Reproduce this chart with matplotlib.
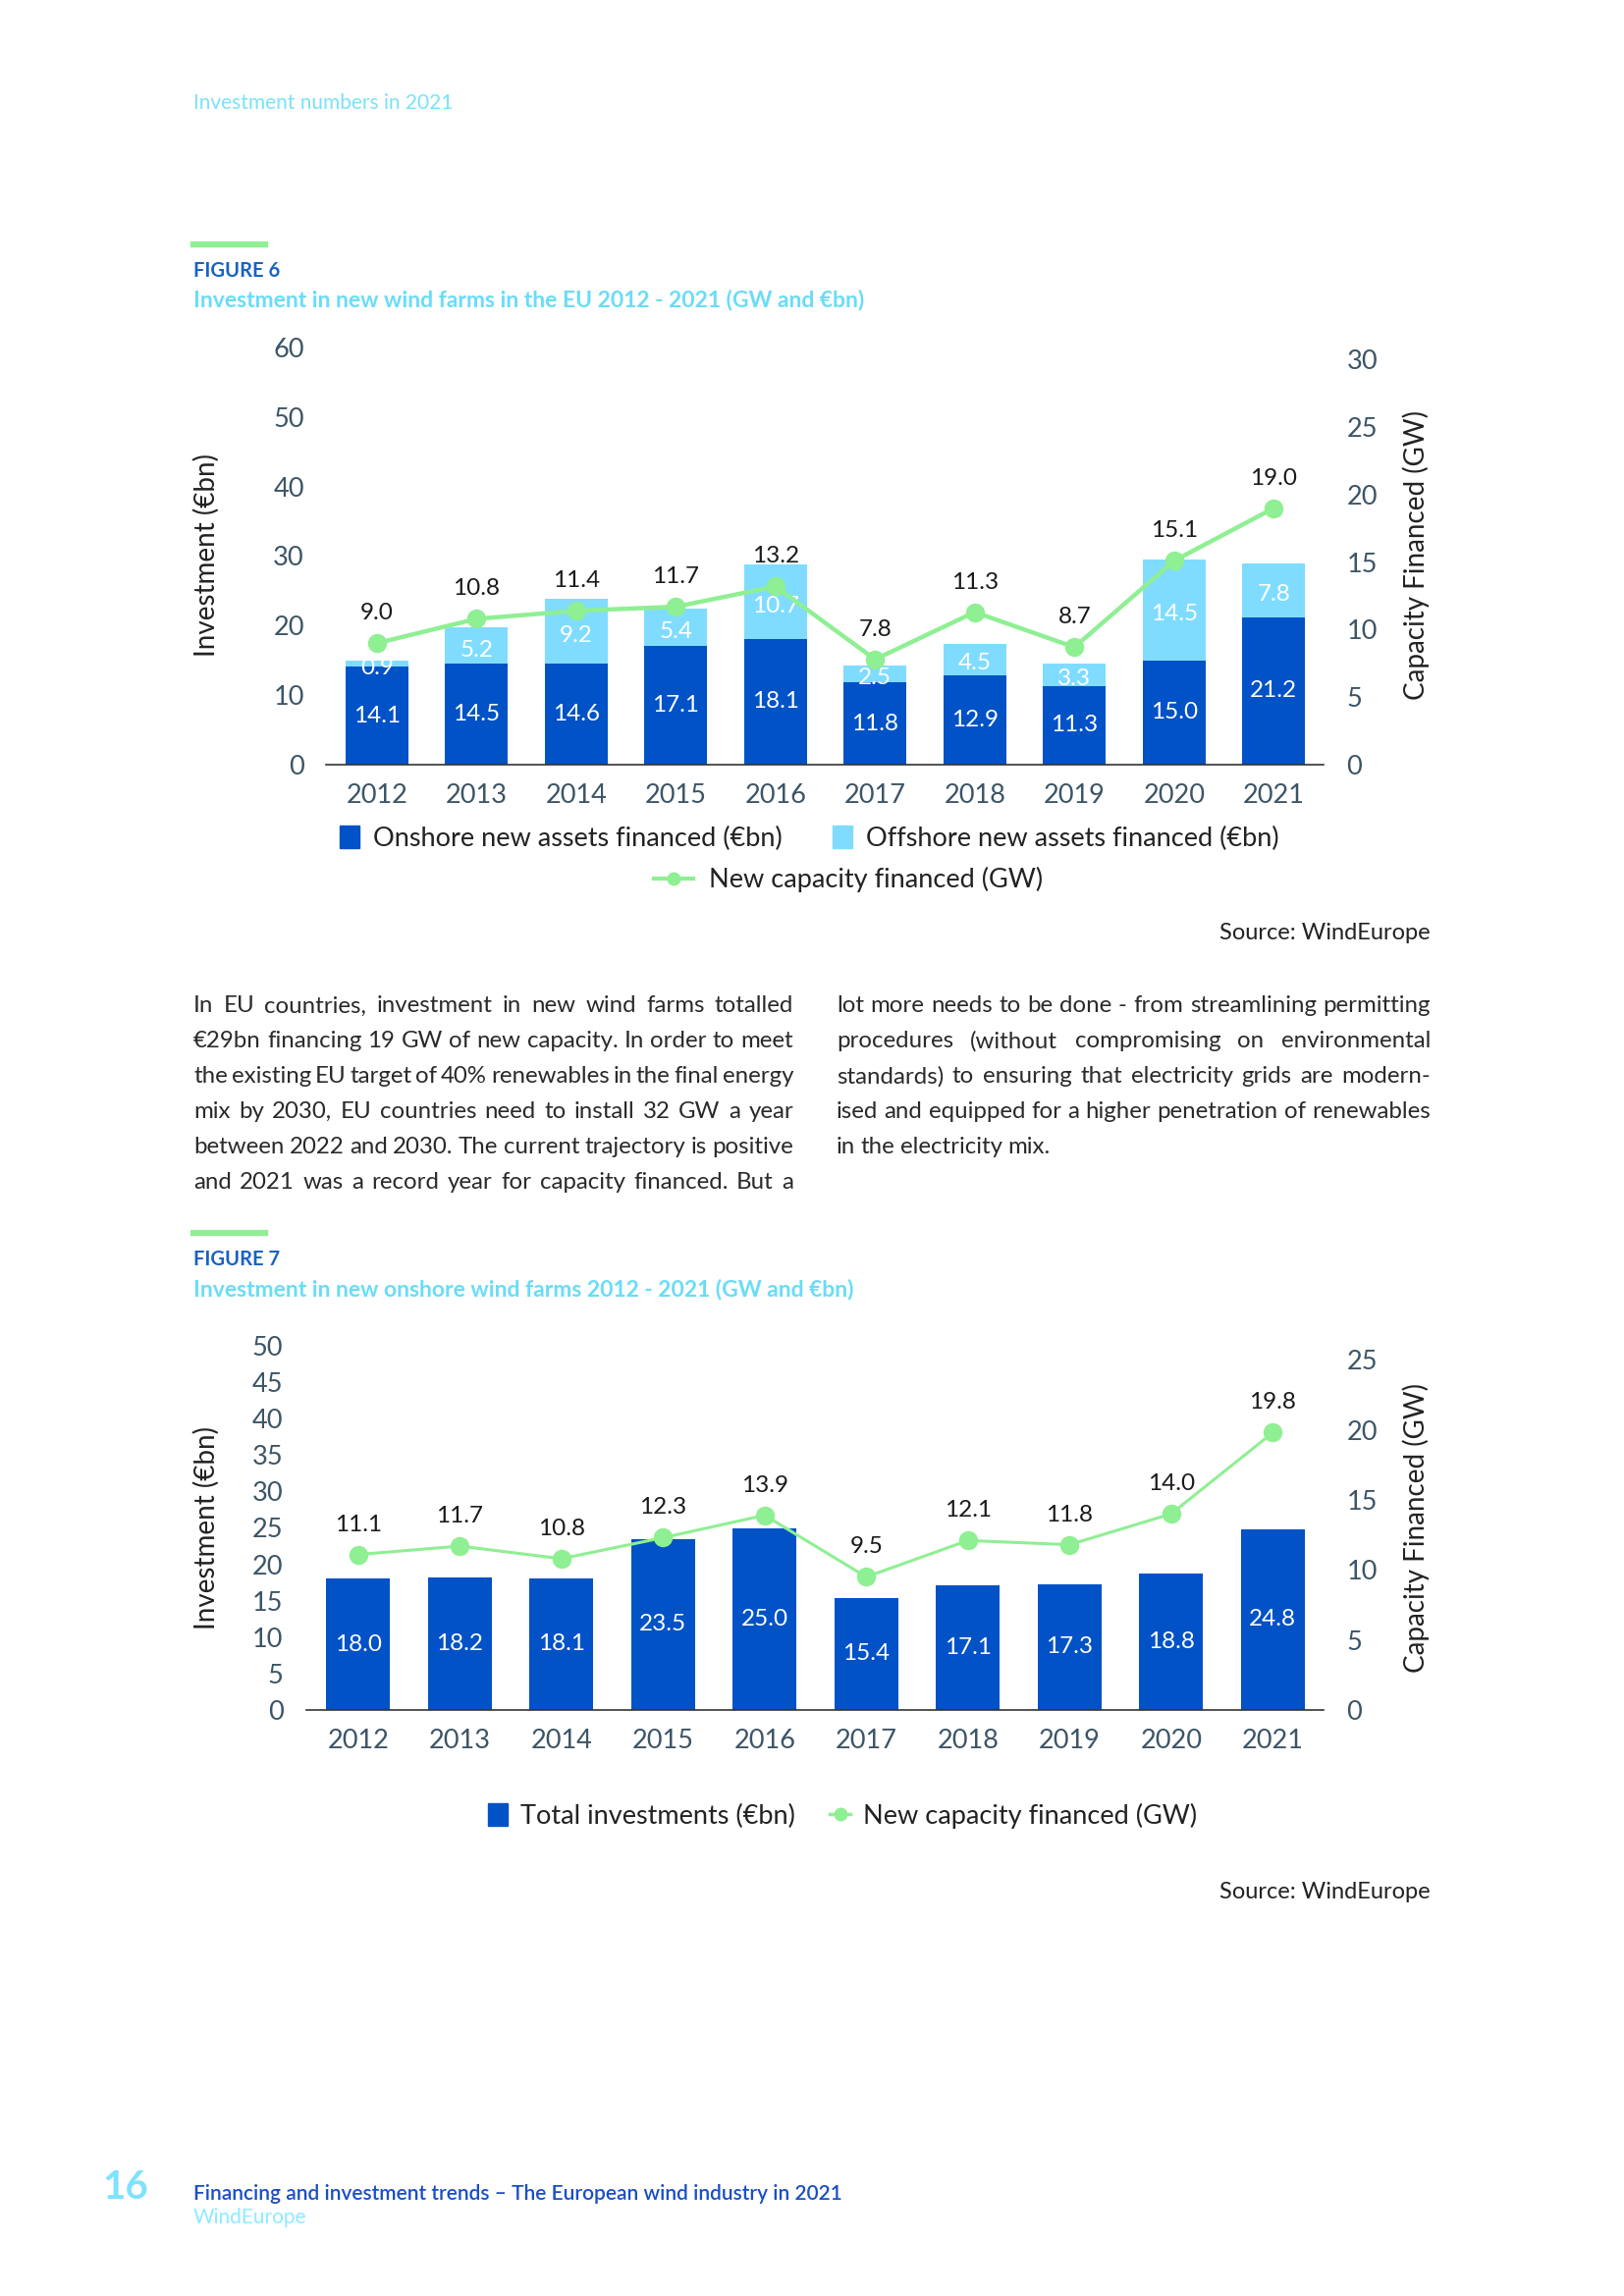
import matplotlib
matplotlib.use('Agg')
import matplotlib.pyplot as plt
from matplotlib.patches import Patch
from matplotlib.lines import Line2D
import numpy as np

# page size in pixels (dpi 100)
W, H = 1654, 2339

years = ['2012', '2013', '2014', '2015', '2016', '2017', '2018', '2019', '2020', '2021']

# figure 6: EU investment (€bn) and capacity financed (GW)
onshore = [14.1, 14.5, 14.6, 17.1, 18.1, 11.8, 12.9, 11.3, 15.0, 21.2]
offshore = [0.9, 5.2, 9.2, 5.4, 10.7, 2.5, 4.5, 3.3, 14.5, 7.8]
capacity = [9.0, 10.8, 11.4, 11.7, 13.2, 7.8, 11.3, 8.7, 15.1, 19.0]

# figure 7: onshore only
total_onshore = [18.0, 18.2, 18.1, 23.5, 25.0, 15.4, 17.1, 17.3, 18.8, 24.8]
capacity_onshore = [11.1, 11.7, 10.8, 12.3, 13.9, 9.5, 12.1, 11.8, 14.0, 19.8]

body_left = [
    "In EU countries, investment in new wind farms totalled",
    "€29bn financing 19 GW of new capacity. In order to meet",
    "the existing EU target of 40% renewables in the final energy",
    "mix by 2030, EU countries need to install 32 GW a year",
    "between 2022 and 2030. The current trajectory is positive",
    "and 2021 was a record year for capacity financed. But a",
]
body_right = [
    "lot more needs to be done - from streamlining permitting",
    "procedures (without compromising on environmental",
    "standards) to ensuring that electricity grids are modern-",
    "ised and equipped for a higher penetration of renewables",
    "in the electricity mix.",
]

DARK = '#0052C6'
LIGHT = '#80DCFF'
GREEN = '#8FEF93'
TICK = '#3C5566'
CYAN = '#6ADCF8'
FONT = ['Lato', 'DejaVu Sans']

plt.rcParams['font.family'] = FONT

fig = plt.figure(figsize=(W / 100, H / 100), dpi=100)


def fx(px):
    return px / W


def fy(py):
    return 1 - py / H


def add_ax(left, top, right, bottom):
    return fig.add_axes([fx(left), fy(bottom), (right - left) / W, (bottom - top) / H])


def style(ax, ax2, lpad, rpad):
    for s in ['top', 'left', 'right']:
        ax.spines[s].set_visible(False)
        ax2.spines[s].set_visible(False)
    ax2.spines['bottom'].set_visible(False)
    ax.spines['bottom'].set_color('#333333')
    ax.spines['bottom'].set_linewidth(1.2)
    ax.tick_params(axis='y', length=0, pad=lpad, labelsize=19.5, labelcolor=TICK)
    ax.tick_params(axis='x', length=0, pad=14, labelsize=19.5, labelcolor=TICK)
    ax2.tick_params(axis='y', length=0, pad=rpad, labelsize=19.5, labelcolor=TICK)


def header(y_bar, num, title):
    fig.add_artist(plt.Line2D([fx(197), fx(270)], [fy(y_bar), fy(y_bar)],
                              color=GREEN, lw=4.5, transform=fig.transFigure))
    fig.text(fx(197), fy(y_bar + 27), 'FIGURE %d' % num, fontsize=14.5, fontweight='bold',
             color='#1A62C4', va='center')
    fig.text(fx(197), fy(y_bar + 57), title, fontsize=16.5, fontweight='bold',
             color=CYAN, va='center')


x = np.arange(len(years))

# ---------------- page header
fig.text(fx(197), fy(105), 'Investment numbers in 2021', fontsize=15, color='#79E2FA', va='center')

# ---------------- figure 6
header(249, 6, 'Investment in new wind farms in the EU 2012 - 2021 (GW and €bn)')

ax = add_ax(332, 354, 1348, 779)
ax.bar(x, onshore, width=0.63, color=DARK, zorder=2)
ax.bar(x, offshore, width=0.63, bottom=onshore, color=LIGHT, zorder=2)
for i in range(len(years)):
    ax.text(x[i], onshore[i] / 2, '%.1f' % onshore[i], ha='center', va='center',
            color='white', fontsize=17.5, zorder=3)
    ax.text(x[i], onshore[i] + offshore[i] / 2 - 0.6, '%.1f' % offshore[i], ha='center',
            va='center', color='white', fontsize=17.5, zorder=3)
ax.set_xlim(-0.51, 9.5)
ax.set_ylim(0, 60)
ax.set_yticks(range(0, 61, 10))
ax.set_xticks(x)
ax.set_xticklabels(years)

ax2 = ax.twinx()
ax2.plot(x, capacity, color=GREEN, lw=3.2, marker='o', ms=13)
for i, v in enumerate(capacity):
    ax2.annotate('%.1f' % v, (x[i], v), xytext=(0, 22), textcoords='offset points',
                 ha='center', va='center', fontsize=17.5, color='#1A1A1A')
ax2.set_ylim(0, 30.9)
ax2.set_yticks(range(0, 31, 5))
style(ax, ax2, 16, 17)

fig.text(fx(210), fy(566), 'Investment (€bn)', rotation=90, ha='center', va='center',
         fontsize=20, color='#222222')
fig.text(fx(1442), fy(566), 'Capacity Financed (GW)', rotation=90, ha='center', va='center',
         fontsize=20, color='#222222')

h_on = Patch(color=DARK)
h_off = Patch(color=LIGHT)
h_cap = Line2D([], [], color=GREEN, lw=3, marker='o', ms=9)
fig.legend([h_on, h_off], ['Onshore new assets financed (€bn)', 'Offshore new assets financed (€bn)'],
           loc='center', bbox_to_anchor=(fx(824), fy(854)), ncol=2, frameon=False,
           fontsize=19.5, handlelength=0.75, handleheight=0.9, handletextpad=0.5,
           columnspacing=1.9, labelcolor='#222222')
fig.legend([h_cap], ['New capacity financed (GW)'], loc='center',
           bbox_to_anchor=(fx(864), fy(896)), frameon=False, fontsize=19.5,
           handlelength=1.5, handletextpad=0.6, labelcolor='#222222')

fig.text(fx(1457), fy(951), 'Source: WindEurope', ha='right', va='center', fontsize=17,
         color='#222222')

# ---------------- body text, justified


def paragraph(lines, x0, x1, y0, step, size, last_left):
    r = fig.canvas.get_renderer()
    space = size * 100 / 72 * 0.22
    for k, line in enumerate(lines):
        y = y0 + k * step
        words = line.split()
        arts = [fig.text(0, fy(y), w, fontsize=size, color='#2A2A2A', va='center') for w in words]
        widths = [a.get_window_extent(r).width for a in arts]
        if last_left and k == len(lines) - 1:
            gap = space
        else:
            gap = (x1 - x0 - sum(widths)) / (len(words) - 1)
        pos = x0
        for a, w in zip(arts, widths):
            a.set_x(fx(pos))
            pos += w + gap


def fit_size(lines, width, start):
    # largest size where every line still fits with a minimal word gap
    r = fig.canvas.get_renderer()
    size = start
    while size > 10:
        worst = 0
        for line in lines:
            words = line.split()
            t = fig.text(0, 0, ' '.join(words), fontsize=size)
            w = t.get_window_extent(r).width
            t.remove()
            worst = max(worst, w - (len(words) - 1) * size * 100 / 72 * 0.1)
        if worst <= width:
            return size
        size -= 0.25
    return size


body_size = min(fit_size(body_left, 611, 18), fit_size(body_right, 605, 18))
paragraph(body_left, 197, 808, 1025, 35.8, body_size, False)
paragraph(body_right, 852, 1457, 1025, 35.8, body_size, True)

# ---------------- figure 7
header(1256, 7, 'Investment in new onshore wind farms 2012 - 2021 (GW and €bn)')

bx = add_ax(312, 1371, 1348, 1742)
bx.bar(x, total_onshore, width=0.63, color=DARK, zorder=2)
for i, v in enumerate(total_onshore):
    bx.text(x[i], v / 2, '%.1f' % v, ha='center', va='center', color='white', fontsize=17.5)
bx.set_xlim(-0.51, 9.5)
bx.set_ylim(0, 50)
bx.set_yticks(range(0, 51, 5))
bx.set_xticks(x)
bx.set_xticklabels(years)

bx2 = bx.twinx()
bx2.plot(x, capacity_onshore, color=GREEN, lw=2.2, marker='o', ms=13)
for i, v in enumerate(capacity_onshore):
    bx2.annotate('%.1f' % v, (x[i], v), xytext=(0, 22), textcoords='offset points',
                 ha='center', va='center', fontsize=17.5, color='#1A1A1A')
bx2.set_ylim(0, 26.0)
bx2.set_yticks(range(0, 26, 5))
style(bx, bx2, 17, 17)

fig.text(fx(210), fy(1556), 'Investment (€bn)', rotation=90, ha='center', va='center',
         fontsize=20, color='#222222')
fig.text(fx(1442), fy(1556), 'Capacity Financed (GW)', rotation=90, ha='center', va='center',
         fontsize=20, color='#222222')

h_tot = Patch(color=DARK)
h_cap2 = Line2D([], [], color=GREEN, lw=2.5, marker='o', ms=9)
fig.legend([h_tot, h_cap2], ['Total investments (€bn)', 'New capacity financed (GW)'],
           loc='center', bbox_to_anchor=(fx(858), fy(1850)), ncol=2, frameon=False,
           fontsize=19.5, handlelength=0.75, handleheight=0.9, handletextpad=0.5,
           columnspacing=1.3, labelcolor='#222222')

fig.text(fx(1457), fy(1927), 'Source: WindEurope', ha='right', va='center', fontsize=17,
         color='#222222')

# ---------------- footer
fig.text(fx(104), fy(2229), '16', fontsize=29, fontweight='bold', color='#7FE2FF', va='center')
fig.text(fx(197), fy(2235), 'Financing and investment trends – The European wind industry in 2021',
         fontsize=15, fontweight='semibold', color='#1A4FC4', va='center')
fig.text(fx(197), fy(2259), 'WindEurope', fontsize=15, color='#8EEBFF', va='center')

fig.savefig('out.png', dpi=100)
